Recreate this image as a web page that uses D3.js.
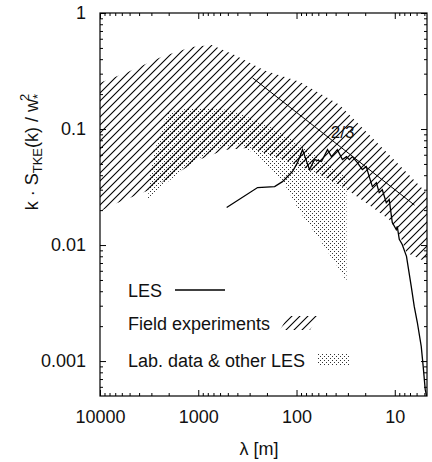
<!DOCTYPE html>
<html>
<head>
<meta charset="utf-8">
<script src="https://cdn.jsdelivr.net/npm/d3@7"></script>
<style>
  body { margin: 0; background: #fff; }
  svg text { font-family: "Liberation Sans", Arial, Helvetica, sans-serif; fill: #111; }
</style>
</head>
<body>
<div class="canvas"></div>
<script>
// margins and dimensions
const w = 432;
const h = 462;
const margin = { top: 13, right: 5, bottom: 66, left: 100 };
const graphWidth = w - margin.left - margin.right;
const graphHeight = h - margin.top - margin.bottom;

// tick labels
const xMajor = [10000, 1000, 100, 10];
const yMajor = [1, 0.1, 0.01, 0.001];

// field experiments band [lambda (m), k*S/w*^2]
const fieldUpper = [[10000, 0.25], [5200, 0.31], [2350, 0.42], [1165, 0.51], [730, 0.53], [426, 0.435],
  [211, 0.32], [93, 0.255], [36.6, 0.162], [18.1, 0.089], [9.0, 0.049], [4.7, 0.028]];
const fieldLower = [[10000, 0.0195], [7380, 0.0223], [3100, 0.030], [1730, 0.0405], [965, 0.0545],
  [540, 0.066], [300, 0.069], [139, 0.0545], [62.7, 0.042], [34.1, 0.032], [19.5, 0.023],
  [11.4, 0.0166], [9.0, 0.0125], [7.6, 0.0086], [4.7, 0.0071]];

// lab data & other LES band
const labUpper = [[3260, 0.0247], [3100, 0.0405], [2765, 0.0664], [2350, 0.0986], [2040, 0.138],
  [1220, 0.152], [479, 0.1466], [300, 0.125], [188, 0.105], [118, 0.084], [73.8, 0.0638],
  [46.2, 0.0493], [31, 0.0381]];
const labLower = [[31, 0.00486], [36.6, 0.00617], [58.4, 0.0112], [93, 0.0195], [132, 0.0332],
  [160, 0.0405], [255, 0.060], [379, 0.0733], [605, 0.069], [1035, 0.0545], [1815, 0.0381],
  [3100, 0.0262]];

// LES spectrum
const lesLambda = [514, 249, 167, 139, 110, 97.7, 86.9, 73.8, 65.6, 55.7, 48.4, 44.1, 38.4, 34.1, 31,
  29, 27, 24, 21.4, 19.5, 18.2, 16.9, 15.4, 14.4, 13.4, 12.2, 11.4, 10.6, 9.66, 9.44, 9.0, 8.4,
  7.6, 6.8, 6.34, 5.9, 5.38, 5.14, 4.9, 4.75];
const lesValue = [0.0211, 0.0313, 0.0319, 0.0352, 0.043, 0.0513, 0.0664, 0.0447, 0.0545, 0.0524,
  0.0664, 0.0578, 0.0664, 0.0545, 0.0578, 0.0545, 0.0578, 0.0513, 0.0447, 0.0474, 0.0389, 0.0319,
  0.0345, 0.0283, 0.030, 0.0232, 0.0247, 0.0156, 0.0136, 0.0145, 0.0112, 0.0101, 0.0080, 0.0044,
  0.00296, 0.00216, 0.00134, 0.00090, 0.00057, 0.00050];

// -2/3 reference slope
const slopeLine = [[280, 0.276], [6.3, 0.0221]];

// main svg
const svg = d3.select(".canvas").append("svg").attr("width", w).attr("height", h);

const defs = svg.append("defs");
const hatch = defs.append("pattern").attr("id", "hatch")
  .attr("patternUnits", "userSpaceOnUse").attr("width", 8).attr("height", 8);
hatch.append("path").attr("d", "M-2,2 L2,-2 M0,8 L8,0 M6,10 L10,6")
  .attr("stroke", "#000").attr("stroke-width", 1.1);
const dots = defs.append("pattern").attr("id", "dots")
  .attr("patternUnits", "userSpaceOnUse").attr("width", 4).attr("height", 4);
dots.append("rect").attr("x", 0).attr("y", 0).attr("width", 1).attr("height", 1).attr("fill", "#333");
dots.append("rect").attr("x", 2).attr("y", 2).attr("width", 1).attr("height", 1).attr("fill", "#333");
defs.append("clipPath").attr("id", "clip").append("rect")
  .attr("width", graphWidth).attr("height", graphHeight);

const graph = svg.append("g").attr("transform", `translate(${margin.left}, ${margin.top})`);

const xScale = d3.scaleLog().domain([10000, 4.7]).range([0, graphWidth]);
const yScale = d3.scaleLog().domain([0.0005, 1]).range([graphHeight, 0]);

const line = d3.line().x(d => xScale(d[0])).y(d => yScale(d[1]));
const area = d3.line().x(d => xScale(d[0])).y(d => yScale(d[1])).curve(d3.curveLinearClosed);

const plot = graph.append("g").attr("clip-path", "url(#clip)");
plot.append("path").attr("d", area(labUpper.concat(labLower))).attr("fill", "url(#dots)");
plot.append("path").attr("d", area(fieldUpper.concat(fieldLower.slice().reverse()))).attr("fill", "url(#hatch)");
plot.append("path").attr("d", line(lesLambda.map((l, i) => [l, lesValue[i]])))
  .attr("fill", "none").attr("stroke", "#000").attr("stroke-width", 1.3);
plot.append("path").attr("d", line(slopeLine))
  .attr("fill", "none").attr("stroke", "#000").attr("stroke-width", 1);

graph.append("text")
  .attr("x", xScale(34)).attr("y", yScale(0.084))
  .attr("text-anchor", "middle").attr("font-size", 17).text("2/3");

// minor ticks
const minor = (lo, hi) => {
  const out = [];
  for (let e = -5; e <= 5; e++) for (let k = 2; k <= 9; k++) {
    const v = k * Math.pow(10, e);
    if (v > lo && v < hi) out.push(v);
  }
  return out;
};
const xMinor = minor(4.7, 10000);
const yMinor = minor(0.0005, 1);

const styleAxis = g => {
  g.select(".domain").remove();
  g.selectAll("line").attr("stroke", "#000");
  g.selectAll("text").attr("font-size", 18).attr("fill", "#111").attr("font-family", null);
};

graph.append("g").attr("transform", `translate(0, ${graphHeight})`)
  .call(d3.axisBottom(xScale).tickValues(xMajor).tickFormat(d3.format("d")).tickSize(-6).tickPadding(14))
  .call(styleAxis);
graph.append("g").attr("transform", `translate(0, ${graphHeight})`)
  .call(d3.axisBottom(xScale).tickValues(xMinor).tickFormat("").tickSize(-3)).call(styleAxis);
graph.append("g")
  .call(d3.axisTop(xScale).tickValues(xMajor).tickFormat("").tickSize(-6)).call(styleAxis);
graph.append("g")
  .call(d3.axisTop(xScale).tickValues(xMinor).tickFormat("").tickSize(-3)).call(styleAxis);

graph.append("g")
  .call(d3.axisLeft(yScale).tickValues(yMajor).tickFormat(d => d3.format("~g")(d)).tickSize(-6).tickPadding(14))
  .call(styleAxis);
graph.append("g")
  .call(d3.axisLeft(yScale).tickValues(yMinor).tickFormat("").tickSize(-3)).call(styleAxis);
graph.append("g").attr("transform", `translate(${graphWidth}, 0)`)
  .call(d3.axisRight(yScale).tickValues(yMajor).tickFormat("").tickSize(-6)).call(styleAxis);
graph.append("g").attr("transform", `translate(${graphWidth}, 0)`)
  .call(d3.axisRight(yScale).tickValues(yMinor).tickFormat("").tickSize(-3)).call(styleAxis);

// frame
graph.append("rect").attr("width", graphWidth).attr("height", graphHeight)
  .attr("fill", "none").attr("stroke", "#000").attr("stroke-width", 1.2);

// axis titles
svg.append("text").attr("x", 259).attr("y", 455).attr("text-anchor", "middle")
  .attr("font-size", 18).text("λ [m]");

const yl = svg.append("text").attr("transform", "translate(38, 152) rotate(-90)")
  .attr("text-anchor", "middle").attr("font-size", 18);
yl.append("tspan").text("k · S");
yl.append("tspan").attr("font-size", 13).attr("dy", 4).text("TKE");
yl.append("tspan").attr("dy", -4).text("(k) / w");
yl.append("tspan").attr("font-size", 13).attr("dy", 4).text("*");
yl.append("tspan").attr("font-size", 13).attr("dx", -7).attr("dy", -13).text("2");

// legend
const legend = svg.append("g").attr("id", "legend");
const lx = 128;
legend.append("text").attr("x", lx).attr("y", 297).attr("font-size", 18).text("LES");
legend.append("line").attr("x1", 175).attr("x2", 225).attr("y1", 290).attr("y2", 290)
  .attr("stroke", "#000").attr("stroke-width", 1.3);
legend.append("text").attr("x", lx).attr("y", 330).attr("font-size", 18).text("Field experiments");
legend.append("path").attr("d", "M288,316 L318,316 L310,330 L280,330 Z").attr("fill", "url(#hatch)");
legend.append("text").attr("x", lx).attr("y", 367).attr("font-size", 18).text("Lab. data & other LES");
legend.append("rect").attr("x", 318).attr("y", 353).attr("width", 32).attr("height", 13).attr("fill", "url(#dots)");
</script>
</body>
</html>
